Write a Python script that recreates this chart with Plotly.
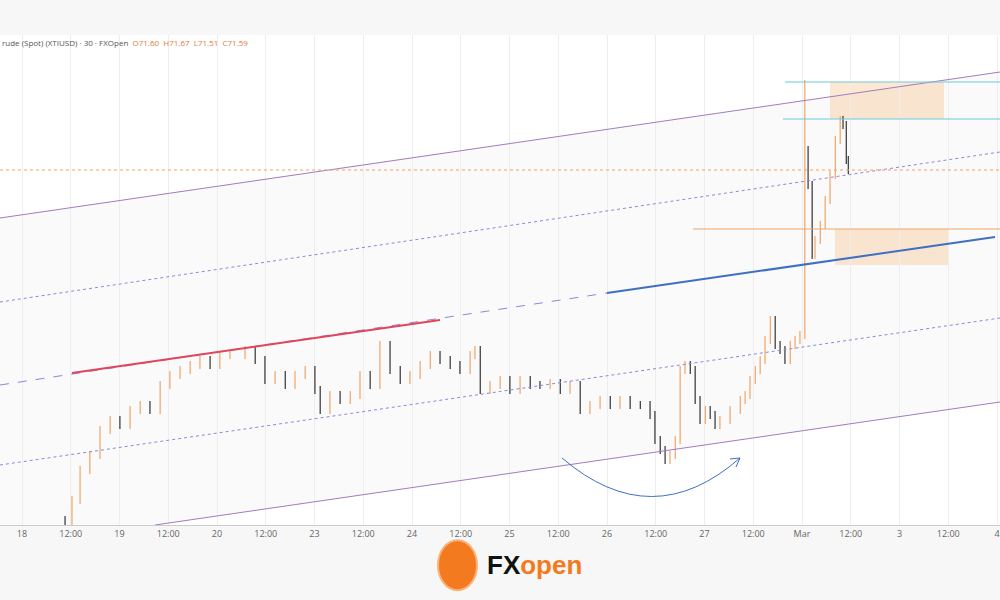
import plotly.graph_objs as go

# hours since 18 Feb 00:00 and close prices
hours = [10.6, 12.3, 14.3, 16.7, 19.2, 21.7, 24.1, 26.6, 29.1, 31.5, 34.0, 36.4, 38.9, 41.4, 43.8,
         46.3, 48.7, 51.2, 54.9, 57.4, 59.8, 62.3, 64.8, 67.2, 69.7, 72.1, 73.4, 75.8, 78.3, 80.8,
         83.2, 85.7, 88.1, 90.6, 93.1, 95.5, 98.0, 100.5, 102.9, 105.4, 107.8, 110.3, 111.5, 112.8,
         115.2, 117.7, 120.1, 122.6, 125.1, 127.5, 130.0, 132.5, 134.9, 137.4, 139.8, 142.3, 144.8,
         147.2, 149.7, 152.2, 154.6, 155.8, 157.1, 158.3, 159.5, 160.8, 162.0, 163.2, 164.5, 165.7,
         166.9, 168.2, 169.4, 170.6, 171.8, 174.3, 176.8, 178.0, 179.2, 180.5, 181.7, 182.9, 184.2,
         185.4, 186.6, 187.8, 189.1, 190.3, 191.5, 192.7, 193.5, 194.5, 195.2, 196.5, 197.7, 198.9,
         200.2, 201.4, 202.1, 202.9, 203.4]
closes = [68.05, 68.30, 68.60, 68.75, 69.00, 69.10, 69.05, 69.20, 69.25, 69.20, 69.45, 69.55, 69.60,
          69.65, 69.70, 69.65, 69.75, 69.75, 69.80, 69.70, 69.50, 69.55, 69.45, 69.55, 69.60, 69.40,
          69.20, 69.35, 69.30, 69.35, 69.55, 69.45, 69.85, 69.60, 69.50, 69.55, 69.65, 69.75, 69.70,
          69.65, 69.60, 69.75, 69.80, 69.40, 69.45, 69.50, 69.40, 69.50, 69.45, 69.45, 69.47, 69.40,
          69.45, 69.20, 69.25, 69.30, 69.25, 69.30, 69.25, 69.25, 69.15, 68.90, 68.80, 68.70, 68.75,
          68.90, 69.60, 69.65, 69.60, 69.30, 69.10, 69.20, 69.15, 69.05, 69.10, 69.20, 69.30, 69.35,
          69.50, 69.60, 69.70, 69.90, 70.10, 69.85, 69.80, 69.70, 69.85, 69.90, 69.95, 71.80, 71.45,
          70.75, 70.90, 71.05, 71.30, 71.55, 71.90, 72.10, 72.05, 71.70, 71.60]
spike_high = 72.50  # opening spike of 1 Mar

tick_hours = list(range(0, 252, 12))
tick_text = ["18", "12:00", "19", "12:00", "20", "12:00", "23", "12:00", "24", "12:00", "25",
             "12:00", "26", "12:00", "27", "12:00", "Mar", "12:00", "3", "12:00", "4"]

opens = [closes[0] + 0.05] + closes[:-1]
highs = [max(o, c) + 0.04 for o, c in zip(opens, closes)]
lows = [min(o, c) - 0.04 for o, c in zip(opens, closes)]
highs[89] = spike_high


def hx(px):  # pixel x -> hours
    return (px - 22) * 12 / 48.75


def py(pix):  # pixel y -> price
    return 73.3 - pix / 100


fig = go.Figure()
fig.add_trace(go.Ohlc(x=hours, open=opens, high=highs, low=lows, close=closes,
                      increasing_line_color="#f0a467", decreasing_line_color="#333333",
                      line_width=1.2, tickwidth=0.3, showlegend=False, hoverinfo="skip"))

shapes = []


def line(x0, y0, x1, y1, color, width=1, dash="solid"):
    shapes.append(dict(type="line", x0=hx(x0), y0=py(y0), x1=hx(x1), y1=py(y1),
                       line=dict(color=color, width=width, dash=dash)))


# channel background
shapes.append(dict(type="path", path=f"M {hx(0)},{py(218)} L {hx(1000)},{py(72)} L {hx(1000)},{py(402)} "
                                     f"L {hx(0)},{py(548)} Z",
                   fillcolor="rgba(0,0,0,0.02)", line_width=0, layer="below"))
line(0, 218, 1000, 72, "#a07cc0")
line(0, 302, 1000, 152, "#8f87d6", dash="dot")
line(0, 385, 607, 293, "#8f87d6", dash="dash")
line(607, 293, 995, 237, "#3f6fc4", width=2)
line(72, 373, 440, 320, "#e0455a", width=2)
line(0, 465, 1000, 318, "#8f87d6", dash="dot")
line(155, 525, 1000, 402, "#a07cc0")
line(0, 170, 1000, 170, "#f0a467", dash="dot")
line(785, 82, 1000, 82, "#6fc9db")
line(783, 119, 1000, 119, "#6fc9db")
line(693, 229, 1000, 229, "#f0a467")
for x0, y0, x1, y1 in [(830, 82, 944, 119), (835, 229, 948, 265)]:
    shapes.append(dict(type="rect", x0=hx(x0), y0=py(y0), x1=hx(x1), y1=py(y1),
                       fillcolor="rgba(245,180,110,0.3)", line_width=0, layer="below"))
# curved arrow
shapes.append(dict(type="path", path=f"M {hx(562)},{py(458)} Q {hx(652)},{py(535)} {hx(740)},{py(458)}",
                   line=dict(color="#3f6fc4", width=1)))
line(740, 458, 730, 459, "#3f6fc4")
line(740, 458, 736, 467, "#3f6fc4")

# logo badge
shapes.append(dict(type="circle", xref="paper", yref="paper", x0=0.438, x1=0.477, y0=-0.133, y1=-0.031,
                   fillcolor="#f47a20", line=dict(color="#f9b27a", width=2)))

fig.update_layout(
    width=1000, height=600,
    margin=dict(l=0, r=0, t=35, b=75),
    paper_bgcolor="#f7f7f7", plot_bgcolor="white",
    shapes=shapes,
    font=dict(family="Open Sans", color="#555"),
    xaxis=dict(range=[hx(0), hx(1000)], tickvals=tick_hours, ticktext=tick_text,
               tickfont=dict(size=9, color="#666"), showgrid=True, gridcolor="#eeeeee",
               rangeslider=dict(visible=False), showline=True, linecolor="#cccccc", zeroline=False),
    yaxis=dict(range=[py(525), py(35)], showticklabels=False, showgrid=False, zeroline=False),
    annotations=[
        dict(xref="paper", yref="paper", x=0, y=1, xanchor="left", yanchor="top", showarrow=False,
             text="rude (Spot) (XTIUSD) · 30 · FXOpen  <span style='color:#e07b3a'>O71.60  H71.67  "
                  "L71.51  C71.59</span>", font=dict(size=8, color="#555")),
        dict(xref="paper", yref="paper", x=0.485, y=-0.082, xanchor="left", yanchor="middle",
             showarrow=False, text="<b>FX</b><span style='color:#f47a20'><b>open</b></span>",
             font=dict(size=26, color="#111", family="Liberation Sans")),
    ],
)

fig.write_html("out.html", config={"displayModeBar": False},
               post_script="document.body.style.margin='0';")
